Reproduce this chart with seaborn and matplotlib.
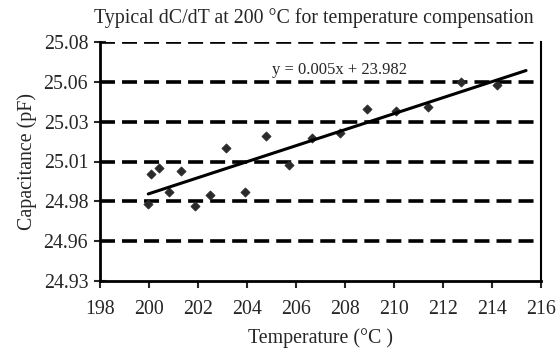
import numpy as np
import pandas as pd
import matplotlib
matplotlib.use("Agg")
import matplotlib.pyplot as plt
import seaborn as sns

# Data
temperature = [199.97, 200.08, 200.41, 200.83, 201.29, 201.89, 202.50, 203.13, 203.92,
               204.78, 205.70, 206.67, 207.80, 208.88, 210.10, 211.40, 212.73, 214.19]
capacitance = [24.9835, 25.0024, 25.0062, 24.9908, 25.0041, 24.9820, 24.9888, 25.0182, 24.9909,
               25.0260, 25.0079, 25.0246, 25.0281, 25.0429, 25.0417, 25.0440, 25.0597, 25.0580]
y_ticks = [24.935, 24.96, 24.985, 25.01, 25.035, 25.06, 25.085]
y_tick_labels = ["24.93", "24.96", "24.98", "25.01", "25.03", "25.06", "25.08"]
x_ticks = [198, 200, 202, 204, 206, 208, 210, 212, 214, 216]
trend_forward = 1.2   # trendline forecast forward (units of x)
equation = "y = 0.005x + 23.982"

df = pd.DataFrame({"Temperature": temperature, "Capacitance": capacitance})

sns.set_theme(style="white")
plt.rcParams["font.family"] = ["Liberation Serif", "DejaVu Serif"]

FS = 14.3
fig = plt.figure(figsize=(5.56, 3.53), dpi=100)
ax = fig.add_axes([100/556, 1-281/353, 441/556, 239/353])

# gridlines
for yt in y_ticks[1:]:
    ax.axhline(yt, color="black", lw=2.6, ls=(0, (4.15, 1.95)), zorder=1)

sns.scatterplot(data=df, x="Temperature", y="Capacitance", ax=ax, marker="D",
                s=22, color="#2a2a2a", edgecolor="#2a2a2a", linewidth=0.5, zorder=3)

coef = np.polyfit(df["Temperature"], df["Capacitance"], 1)
xs = np.array([df["Temperature"].min(), df["Temperature"].max() + trend_forward])
trend = pd.DataFrame({"Temperature": xs, "Capacitance": np.polyval(coef, xs)})
sns.lineplot(data=trend, x="Temperature", y="Capacitance", ax=ax, color="black",
             lw=2.2, zorder=4)

ax.set_xlim(198, 216)
ax.set_ylim(y_ticks[0], y_ticks[-1])
ax.set_xticks(x_ticks)
ax.set_xticklabels([str(t) for t in x_ticks], fontsize=FS)
ax.set_yticks(y_ticks)
ax.set_yticklabels(y_tick_labels, fontsize=FS)
ax.tick_params(axis="y", direction="inout", length=9, width=1.5, pad=4, left=True)
ax.tick_params(axis="x", direction="out", length=5, width=1.5, pad=9, bottom=True)

for side in ["left", "bottom"]:
    ax.spines[side].set_linewidth(2)
    ax.spines[side].set_color("black")
ax.spines["right"].set_linewidth(1.5)
ax.spines["right"].set_color("black")
ax.spines["top"].set_visible(False)

ax.set_xlabel("Temperature (°C )", fontsize=FS, labelpad=6)
ax.set_ylabel("Capacitance (pF)", fontsize=FS, labelpad=5)
ax.set_title("Typical dC/dT at 200 °C for temperature compensation", fontsize=FS, pad=14)
ax.title.set_x((314 - 100) / 441)

ax.text(205.0, 25.0675, equation, fontsize=12, ha="left", va="center", zorder=5)

fig.savefig("out.png", dpi=100)
